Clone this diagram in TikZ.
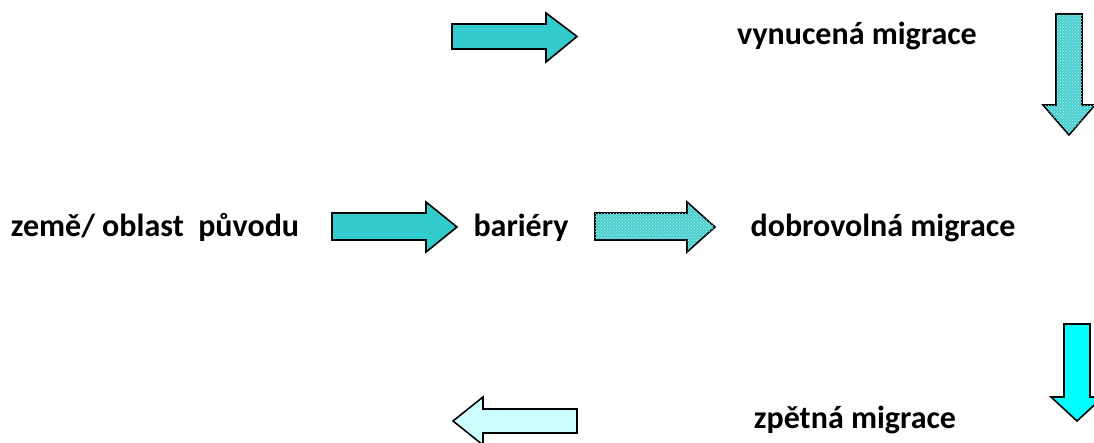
\documentclass[tikz,border=0pt]{standalone}
\usepackage{fontspec}
\setmainfont{Carlito}
\usetikzlibrary{patterns}
\definecolor{turq}{HTML}{33CCCC}
\definecolor{turqdot}{HTML}{4FCFCF}
\definecolor{dotc}{HTML}{A8EEEE}
\definecolor{cyanf}{HTML}{00FFFF}
\definecolor{lightc}{HTML}{CCFFFF}
\tikzset{
  blockarrow/.style={draw=black, line width=1.6pt, line join=miter},
  dotted fill/.style={blockarrow, fill=turqdot, postaction={pattern=crosshatch dots, pattern color=dotc}},
  lbl/.style={font=\bfseries\fontsize{32}{38}\selectfont, inner sep=0pt, anchor=base}
}
\begin{document}
\begin{tikzpicture}[x=1pt,y=-1pt]
\useasboundingbox (0,0) rectangle (1094,443);
% top right arrow
\draw[blockarrow, fill=turq] (452,24) -- (546,24) -- (546,13) -- (577,36.5) -- (546,62) -- (546,49) -- (452,49) -- cycle;
% middle arrow 1
\draw[blockarrow, fill=turq] (332,213) -- (426,213) -- (426,202) -- (457,227) -- (426,252) -- (426,240) -- (332,240) -- cycle;
% middle arrow 2 (dotted)
\draw[dotted fill] (595,213) -- (687,213) -- (687,202) -- (715,227) -- (687,252) -- (687,240) -- (595,240) -- cycle;
% down arrow top right (dotted)
\draw[dotted fill] (1056,14) -- (1082,14) -- (1082,105) -- (1095,105) -- (1069,135) -- (1043,105) -- (1056,105) -- cycle;
% down arrow bottom right
\draw[blockarrow, fill=cyanf] (1064,324) -- (1090,324) -- (1090,397) -- (1103,397) -- (1077,421) -- (1051,397) -- (1064,397) -- cycle;
% left arrow bottom
\draw[blockarrow, fill=lightc] (577,409) -- (483,409) -- (483,397) -- (453,421) -- (483,445) -- (483,433) -- (577,433) -- cycle;
% labels
\node[lbl] (vyn) at (857,45) {vynucená migrace};
\node[lbl] (zeme) at (155,237) {země/ oblast\ \ původu};
\node[lbl] (bar) at (521,237) {bariéry};
\node[lbl] (dob) at (883,237) {dobrovolná migrace};
\node[lbl] (zpet) at (855,428) {zpětná migrace};
\end{tikzpicture}
\end{document}
